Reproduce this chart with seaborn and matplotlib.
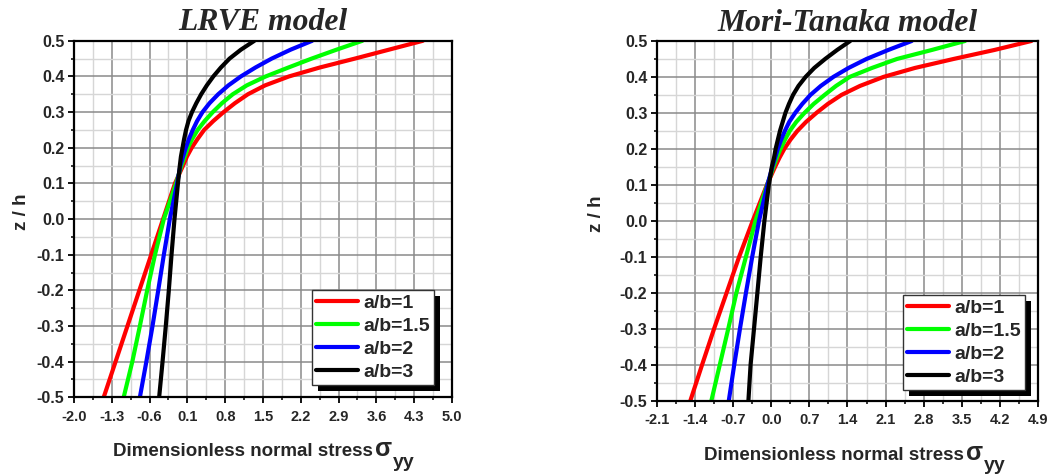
import matplotlib
matplotlib.use("Agg")
import numpy as np
import pandas as pd
import matplotlib.pyplot as plt
import seaborn as sns
from matplotlib.lines import Line2D
from matplotlib.patches import Rectangle
from matplotlib.transforms import IdentityTransform
from matplotlib.ticker import FixedLocator

# ---------------- data ----------------
z_levels = [-0.5, -0.4, -0.3, -0.2, -0.1, 0.0, 0.1, 0.15, 0.175, 0.2, 0.225, 0.25, 0.275,
            0.3, 0.325, 0.35, 0.375, 0.4, 0.425, 0.45, 0.475, 0.5]

ratio_labels = ["a/b=1", "a/b=1.5", "a/b=2", "a/b=3"]
line_colors = ["#ff0000", "#00ff00", "#0000ff", "#000000"]

lrve_ab1 = [-1.45, -1.23, -1.01, -0.79, -0.57, -0.35, -0.13, 0.02, 0.09, 0.18, 0.29, 0.41, 0.58,
            0.77, 0.98, 1.22, 1.54, 1.98, 2.55, 3.20, 3.83, 4.46]
lrve_ab15 = [-1.08, -0.92, -0.78, -0.645, -0.50, -0.336, -0.11, -0.01, 0.05, 0.11, 0.19, 0.29, 0.42,
             0.57, 0.74, 0.94, 1.20, 1.55, 1.97, 2.40, 2.86, 3.34]
lrve_ab2 = [-0.78, -0.66, -0.546, -0.44, -0.336, -0.225, -0.09, -0.03, 0.02, 0.07, 0.13, 0.20, 0.28,
            0.38, 0.51, 0.67, 0.86, 1.09, 1.36, 1.66, 2.01, 2.41]
lrve_ab3 = [-0.423, -0.36, -0.30, -0.244, -0.194, -0.139, -0.075, -0.04, -0.02, 0.01, 0.04, 0.075, 0.12,
            0.185, 0.265, 0.355, 0.46, 0.58, 0.72, 0.88, 1.09, 1.34]

mt_ab1 = [-1.486, -1.27, -1.05, -0.82, -0.59, -0.34, -0.08, 0.07, 0.15, 0.24, 0.35, 0.48, 0.64,
          0.83, 1.04, 1.29, 1.63, 2.06, 2.64, 3.35, 4.10, 4.78]
mt_ab15 = [-1.10, -0.945, -0.79, -0.64, -0.465, -0.29, -0.075, 0.04, 0.10, 0.17, 0.25, 0.34, 0.46,
           0.61, 0.78, 0.98, 1.19, 1.44, 1.85, 2.31, 2.95, 3.56]
mt_ab2 = [-0.78, -0.68, -0.575, -0.465, -0.35, -0.225, -0.07, 0.02, 0.07, 0.12, 0.18, 0.25, 0.33,
          0.44, 0.57, 0.72, 0.91, 1.14, 1.42, 1.75, 2.15, 2.58]
mt_ab3 = [-0.42, -0.38, -0.317, -0.255, -0.194, -0.126, -0.045, 0.01, 0.05, 0.08, 0.12, 0.16, 0.21,
          0.26, 0.325, 0.40, 0.50, 0.63, 0.79, 0.99, 1.21, 1.45]

titles = ["LRVE model", "Mori-Tanaka model"]
x_label_text = "Dimensionless normal stress"
y_label_text = "z / h"

lrve_xticks = [-2.0, -1.3, -0.6, 0.1, 0.8, 1.5, 2.2, 2.9, 3.6, 4.3, 5.0]
lrve_xticklabels = ["-2.0", "-1.3", "-0.6", "0.1", "0.8", "1.5", "2.2", "2.9", "3.6", "4.3", "5.0"]
mt_xticks = [-2.1, -1.4, -0.7, 0.0, 0.7, 1.4, 2.1, 2.8, 3.5, 4.2, 4.9]
mt_xticklabels = ["-2.1", "-1.4", "-0.7", "0.0", "0.7", "1.4", "2.1", "2.8", "3.5", "4.2", "4.9"]
yticks = [-0.5, -0.4, -0.3, -0.2, -0.1, 0.0, 0.1, 0.2, 0.3, 0.4, 0.5]
yticklabels = ["-0.5", "-0.4", "-0.3", "-0.2", "-0.1", "0.0", "0.1", "0.2", "0.3", "0.4", "0.5"]

# ---------------- style ----------------
sns.set_theme(style="white")
plt.rcParams["font.family"] = ["Liberation Sans", "DejaVu Sans"]
plt.rcParams["font.weight"] = "bold"

fig = plt.figure(figsize=(10.48, 4.76), dpi=100)
ax_l = fig.add_axes([0.0706, 0.1653, 0.3607, 0.749])
ax_r = fig.add_axes([0.6269, 0.1586, 0.3635, 0.7553])

panels = [
    (ax_l, [lrve_ab1, lrve_ab15, lrve_ab2, lrve_ab3], lrve_xticks, lrve_xticklabels,
     titles[0], 0.446, -0.14, (0.952, 0.034)),
    (ax_r, [mt_ab1, mt_ab15, mt_ab2, mt_ab3], mt_xticks, mt_xticklabels,
     titles[1], 0.465, -0.158, (0.966, 0.029)),
]

palette = dict(zip(ratio_labels, line_colors))
legends = []
for ax, series, xt, xtl, title, xlab_x, ylab_x, leg_anchor in panels:
    rows = []
    for lab, vals in zip(ratio_labels, series):
        for zz, vv in zip(z_levels, vals):
            rows.append({"z": zz, "stress": vv, "ratio": lab})
    df = pd.DataFrame(rows)
    sns.lineplot(data=df, x="stress", y="z", hue="ratio", palette=palette,
                 hue_order=ratio_labels, orient="y", estimator=None,
                 linewidth=3.0, ax=ax, legend=False)

    ax.set_xlim(xt[0], xt[-1])
    ax.set_ylim(yticks[0], yticks[-1])
    ax.xaxis.set_major_locator(FixedLocator(xt))
    ax.set_xticklabels(xtl)
    ax.xaxis.set_minor_locator(FixedLocator([(a + b) / 2 for a, b in zip(xt[:-1], xt[1:])]))
    ax.yaxis.set_major_locator(FixedLocator(yticks))
    ax.set_yticklabels(yticklabels)
    ax.yaxis.set_minor_locator(FixedLocator([(a + b) / 2 for a, b in zip(yticks[:-1], yticks[1:])]))

    ax.set_axisbelow(True)
    ax.grid(which="major", color="#8a8a8a", linewidth=1.1)
    ax.grid(which="minor", color="#d6d6d6", linewidth=1.0)
    for sp in ax.spines.values():
        sp.set_color("black")
        sp.set_linewidth(1.6)
        sp.set_visible(True)

    ax.tick_params(which="major", direction="out", length=4, width=1.3, color="black",
                   top=False, right=False, bottom=True, left=True, pad=4)
    ax.tick_params(which="minor", direction="out", length=2.5, width=1.1, color="black",
                   top=False, right=False, bottom=True, left=True)
    ax.tick_params(axis="x", which="major", labelsize=10.5, pad=5)
    ax.tick_params(axis="y", which="major", labelsize=11.5, pad=3)
    for t in ax.get_xticklabels() + ax.get_yticklabels():
        t.set_fontweight("bold")

    ax.set_title(title, fontsize=22.8, fontweight="bold", fontstyle="italic",
                 family=["Liberation Serif", "DejaVu Serif"], pad=7.5)

    ax.set_ylabel(y_label_text, fontsize=13.5, fontweight="bold", va="center")
    ax.yaxis.set_label_coords(ylab_x, 0.52)

    xl = ax.set_xlabel(x_label_text, fontsize=13.5, fontweight="bold", va="baseline")
    ax.xaxis.set_label_coords(xlab_x, -0.165)
    sig = ax.annotate("σ", xy=(1, 0), xycoords=xl, xytext=(1.5, 3),
                      textcoords="offset points", fontsize=18, fontweight="bold",
                      ha="left", va="baseline", annotation_clip=False)
    ax.annotate("yy", xy=(1, 0), xycoords=sig, xytext=(0.5, -4),
                textcoords="offset points", fontsize=14, fontweight="bold",
                ha="left", va="baseline", annotation_clip=False)

    handles = [Line2D([0], [0], color=c, lw=3.0) for c in line_colors]
    leg = ax.legend(handles, ratio_labels, loc="lower right", bbox_to_anchor=leg_anchor,
                    bbox_transform=ax.transAxes, borderaxespad=0, fancybox=False,
                    framealpha=1, edgecolor="#333333", prop={"size": 14, "weight": "bold"},
                    handlelength=2.15, handletextpad=0.25, labelspacing=0.28, borderpad=0.22)
    leg.get_frame().set_linewidth(1.0)
    legends.append((ax, leg))

fig.canvas.draw()
for ax, leg in legends:
    bb = leg.get_window_extent()
    shadow = Rectangle((bb.x0 + 6, bb.y0 - 6), bb.width, bb.height,
                       transform=IdentityTransform(), facecolor="black",
                       edgecolor="none", zorder=leg.get_zorder() - 0.5, clip_on=False)
    ax.add_artist(shadow)

fig.savefig("out.png", dpi=100)
